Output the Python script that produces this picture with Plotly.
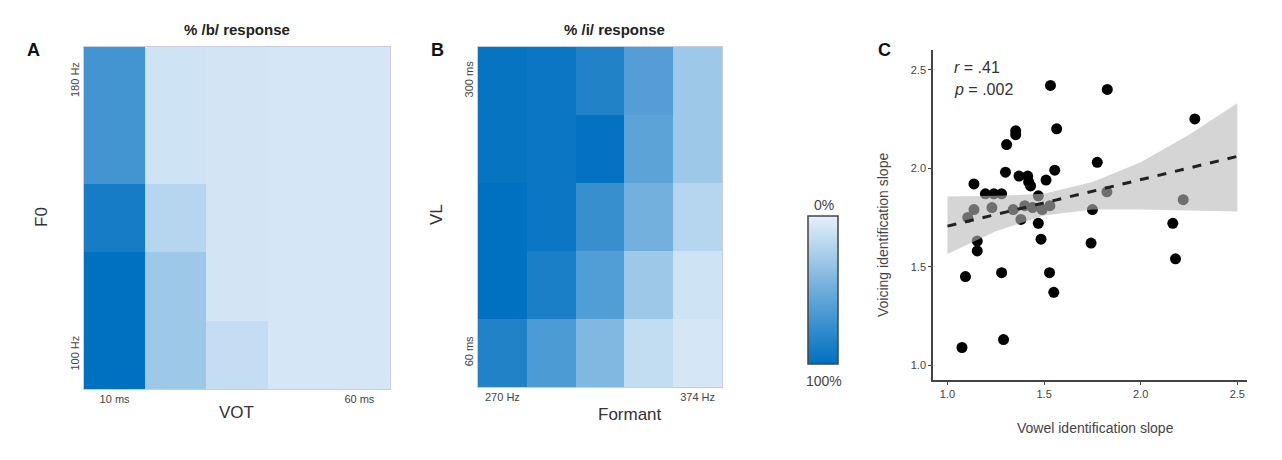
import plotly.graph_objects as go

W, H = 1282, 460
OFF = 8
def px(x): return (x - OFF) / W
def py(y): return 1 - (y - OFF) / H

# Panel A: % /b/ response (rows top->bottom: 180 Hz -> 100 Hz; cols 10 ms -> 60 ms)
vot_labels = ["10 ms", "", "", "", "60 ms"]
f0_labels = ["180 Hz", "", "", "", "100 Hz"]
b_resp = [
    [70, 10, 8, 7, 7],
    [70, 10, 8, 7, 7],
    [90, 20, 8, 7, 7],
    [100, 30, 8, 7, 7],
    [100, 30, 14, 7, 7],
]
# Panel B: % /i/ response (rows top->bottom: 300 ms -> 60 ms; cols 270 Hz -> 374 Hz)
formant_labels = ["270 Hz", "", "", "", "374 Hz"]
vl_labels = ["300 ms", "", "", "", "60 ms"]
i_resp = [
    [97, 95, 85, 62, 30],
    [97, 95, 98, 58, 30],
    [100, 95, 75, 48, 20],
    [100, 88, 63, 30, 10],
    [85, 65, 42, 15, 7],
]
# Panel C scatter
vowel_slope = [1.533, 1.827, 2.28, 1.565, 1.353, 1.353, 1.306, 1.775, 1.555, 1.30,
               1.37, 1.415, 1.42, 1.43, 1.51, 1.137, 1.196, 1.24, 1.28, 1.47,
               1.825, 2.22, 1.23, 1.137, 1.105, 1.34, 1.40, 1.44, 1.49, 1.53,
               1.38, 1.47, 1.75, 2.166, 1.154, 1.154, 1.484, 1.743, 1.093, 1.28,
               1.528, 1.55, 2.18, 1.29, 1.075]
voicing_slope = [2.42, 2.40, 2.25, 2.20, 2.19, 2.17, 2.12, 2.03, 1.99, 1.98,
                 1.96, 1.96, 1.93, 1.91, 1.94, 1.92, 1.87, 1.87, 1.87, 1.86,
                 1.88, 1.84, 1.80, 1.79, 1.75, 1.79, 1.81, 1.80, 1.79, 1.81,
                 1.74, 1.72, 1.79, 1.72, 1.63, 1.58, 1.64, 1.62, 1.45, 1.47,
                 1.47, 1.37, 1.54, 1.13, 1.09]
fit_x = [1.0, 2.5]
fit_y = [1.706, 2.06]
band_x = [1.0, 1.25, 1.5, 1.75, 2.0, 2.25, 2.5]
band_lo = [1.565, 1.68, 1.76, 1.79, 1.79, 1.785, 1.78]
band_hi = [1.856, 1.86, 1.87, 1.93, 2.03, 2.17, 2.33]

cscale = [[0, "#e6f0fa"], [0.5, "#6eaddc"], [1, "#0070c0"]]
cscale_rev = [[0, "#0070c0"], [0.5, "#6eaddc"], [1, "#e6f0fa"]]
idx = list(range(5))

fig = go.Figure()
fig.add_trace(go.Heatmap(z=b_resp, x=idx, y=idx, zmin=0, zmax=100, colorscale=cscale,
                         showscale=False, xaxis="x", yaxis="y"))
fig.add_trace(go.Heatmap(z=i_resp, x=idx, y=idx, zmin=0, zmax=100, colorscale=cscale,
                         showscale=False, xaxis="x2", yaxis="y2"))
# colour key: 0% at top, 100% at bottom (placed off-range so only its colour bar shows)
fig.add_trace(go.Heatmap(z=[[50]], x=[20], y=[20], zmin=0, zmax=100, colorscale=cscale_rev,
                         xaxis="x2", yaxis="y2", hoverinfo="skip",
                         showscale=True,
                         colorbar=dict(x=px(808), xanchor="left", len=(364-216)/H, lenmode="fraction",
                                       y=py(364), yanchor="bottom", thickness=30, xpad=0, ypad=0,
                                       outlinecolor="#444", outlinewidth=1.5,
                                       showticklabels=False, ticks="")))
fig.add_trace(go.Scatter(x=vowel_slope, y=voicing_slope, mode="markers",
                         marker=dict(color="black", size=11), xaxis="x3", yaxis="y3", showlegend=False))
fig.add_trace(go.Scatter(x=band_x + band_x[::-1], y=band_hi + band_lo[::-1], fill="toself",
                         fillcolor="rgba(185,185,185,0.6)", line=dict(width=0), mode="lines",
                         xaxis="x3", yaxis="y3", showlegend=False, hoverinfo="skip"))
fig.add_trace(go.Scatter(x=fit_x, y=fit_y, mode="lines", line=dict(color="#222", width=3, dash="dash"),
                         xaxis="x3", yaxis="y3", showlegend=False))

tickfont = dict(family="Liberation Sans", size=11, color="#444")
hm_axis = dict(showgrid=False, zeroline=False, ticks="", showline=True, linecolor="#ccd", mirror=True,
               tickfont=tickfont)
fig.update_layout(
    width=W, height=H, margin=dict(l=0, r=0, t=0, b=0),
    paper_bgcolor="white", plot_bgcolor="white",
    font=dict(family="Liberation Sans"),
    xaxis=dict(hm_axis, domain=[px(84), px(390)], tickvals=idx, ticktext=vot_labels, range=[-0.5, 4.5]),
    yaxis=dict(hm_axis, domain=[py(389), py(47)], tickvals=idx, ticktext=f0_labels, range=[4.5, -0.5],
               tickangle=-90),
    xaxis2=dict(hm_axis, domain=[px(478), px(722)], tickvals=idx, ticktext=formant_labels, range=[-0.5, 4.5], anchor="y2"),
    yaxis2=dict(hm_axis, domain=[py(387), py(47)], tickvals=idx, ticktext=vl_labels, range=[4.5, -0.5],
                tickangle=-90, anchor="x2"),
    xaxis3=dict(domain=[px(933), px(1247)], range=[0.925, 2.55], tickvals=[1.0, 1.5, 2.0, 2.5],
                ticktext=["1.0", "1.5", "2.0", "2.5"], showgrid=False, zeroline=False, showline=True,
                linecolor="#444", linewidth=1.5, ticks="outside", ticklen=3, tickcolor="#444",
                tickfont=tickfont, anchor="y3"),
    yaxis3=dict(domain=[py(380), py(50)], range=[0.925, 2.6], tickvals=[1.0, 1.5, 2.0, 2.5],
                ticktext=["1.0", "1.5", "2.0", "2.5"], showgrid=False, zeroline=False, showline=True,
                linecolor="#444", linewidth=1.5, ticks="outside", ticklen=3, tickcolor="#444",
                tickfont=tickfont, anchor="x3"),
)

def ann(x, y, text, size=14, color="#333", bold=False, angle=0, xanchor="center"):
    fig.add_annotation(x=px(x), y=py(y), xref="paper", yref="paper", text=f"<b>{text}</b>" if bold else text,
                       showarrow=False, font=dict(size=size, color=color, family="Liberation Sans"),
                       textangle=angle, xanchor=xanchor, yanchor="middle")

ann(237, 30, "% /b/ response", 15, "#222", True)
ann(614, 30, "% /i/ response", 15, "#222", True)
ann(33, 50, "A", 18, "#111", True)
ann(437, 50, "B", 18, "#111", True)
ann(884, 50, "C", 18, "#111", True)
ann(236, 412, "VOT", 17, "#333")
ann(42, 217, "F0", 17, "#333", angle=-90)
ann(630, 414, "Formant", 17, "#333")
ann(437, 215, "VL", 17, "#333", angle=-90)
ann(824, 205, "0%", 14, "#444")
ann(824, 381, "100%", 14, "#444")
ann(1095, 428, "Vowel identification slope", 14, "#444")
ann(883, 235, "Voicing identification slope", 14, "#444", angle=-90)
ann(952, 67, "<i>r</i> = .41", 16, "#333", xanchor="left")
ann(952, 90, "<i>p</i> = .002", 16, "#333", xanchor="left")

fig.write_html("out.html")
